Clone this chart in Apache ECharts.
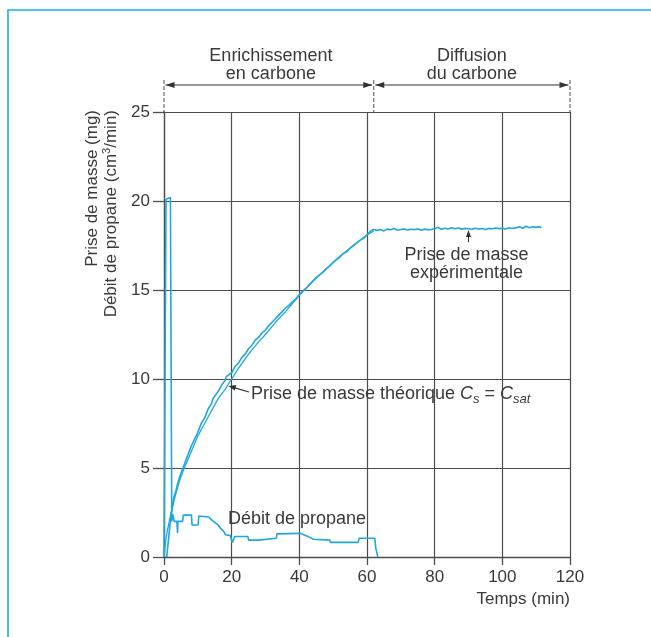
<!DOCTYPE html>
<html>
<head>
<meta charset="utf-8">
<script src="https://cdn.jsdelivr.net/npm/echarts@6/dist/echarts.min.js"></script>
<style>
  html, body { margin: 0; padding: 0; background: #fff; }
  #chart { width: 651px; height: 637px; }
</style>
</head>
<body>
<div id="chart"></div>
<script>
// Time axis (min) and value axis ticks
const xTicks = [0, 20, 40, 60, 80, 100, 120];
const yTicks = [0, 5, 10, 15, 20, 25];

// Theoretical mass gain (Cs = Csat)
const theoTime = [0, 0.5, 1, 2, 3, 4, 5, 6, 8, 10, 12, 14, 16, 18, 20, 22, 25, 28, 30, 33, 36, 40, 44, 48, 52, 56, 60, 62];
const theoMass = [0, 0.9, 1.5, 2.4, 3.2, 3.9, 4.5, 5.0, 5.9, 6.8, 7.5, 8.2, 8.9, 9.4, 10.0, 10.6, 11.4, 12.1, 12.5, 13.2, 13.8, 14.7, 15.5, 16.2, 16.9, 17.5, 18.1, 18.3];

// Measured mass gain (mg)
const expTime = [0.8, 1.5, 2, 2.5, 3, 3.5, 4, 5, 6, 7, 8, 9, 10, 11, 12, 13, 14, 14.5, 15, 16, 16.5, 17, 18, 18.5, 19, 20,
  21, 22, 23, 24, 25, 26, 27, 28, 29, 30, 31, 32, 33, 34, 35, 36, 37, 38, 39, 40,
  41, 42, 43, 44, 45, 46, 47, 48, 49, 50, 51, 52, 53, 54, 55, 56, 57, 58, 59, 60, 61, 62,
  63, 64, 65, 66, 67, 68, 69, 70, 71, 72, 73, 74, 75, 76, 77, 78, 79, 80,
  81, 82, 83, 84, 85, 86, 87, 88, 89, 90, 91, 92, 93, 94, 95, 96, 97, 98, 99, 100,
  101, 102, 103, 104, 105, 106, 107, 108, 109, 110, 111, 111.5];
const expMass = [0, 1.3, 2.3, 2.9, 3.4, 3.7, 4.1, 4.7, 5.2, 5.7, 6.2, 6.6, 7.0, 7.5, 7.8, 8.3, 8.6, 8.9, 8.85, 9.3, 9.45, 9.65, 9.9, 10.15, 10.1, 10.35,
  10.7, 10.9, 11.2, 11.4, 11.7, 11.9, 12.2, 12.35, 12.6, 12.75, 13.0, 13.2, 13.4, 13.6, 13.8, 14.0, 14.15, 14.35, 14.5, 14.75,
  14.95, 15.1, 15.3, 15.5, 15.7, 15.85, 16.0, 16.2, 16.35, 16.55, 16.7, 16.85, 17.05, 17.15, 17.35, 17.5, 17.65, 17.8, 17.9, 18.1, 18.3, 18.4,
  18.35, 18.4, 18.32, 18.42, 18.38, 18.45, 18.36, 18.4, 18.43, 18.37, 18.41, 18.39, 18.44, 18.36, 18.42, 18.38, 18.4, 18.46,
  18.52, 18.41, 18.47, 18.43, 18.5, 18.44, 18.48, 18.42, 18.46, 18.44, 18.41, 18.47, 18.43, 18.45, 18.4, 18.46, 18.44, 18.48, 18.45, 18.47,
  18.43, 18.5, 18.46, 18.49, 18.56, 18.47, 18.58, 18.5, 18.55, 18.52, 18.56, 18.5];

// Propane flow rate (cm3/min)
const propTime = [0, 0.3, 0.6, 0.8, 1.9, 2.1, 2.3, 2.6, 3, 3.8, 4.0, 4.1, 5.5, 5.7, 8.1, 8.3, 10.1, 10.3, 13.2, 14, 15, 16, 17, 17.6, 18.2, 19.6, 20.2, 20.6, 20.9,
  24.8, 25, 27.8, 28, 33.2, 33.4, 33.5, 33.7, 40.2, 42, 44.2, 49, 49.2, 57.4, 57.7, 62.3, 62.6, 63.2];
const propFlow = [0, 0, 20.1, 20.2, 20.2, 20.1, 2.0, 2.4, 2.0, 2.0, 1.35, 2.0, 2.0, 2.35, 2.35, 1.8, 1.8, 2.3, 2.25, 2.1, 1.95, 1.8, 1.55, 1.45, 1.25, 1.2, 0.8, 0.8, 1.15,
  1.15, 0.95, 0.95, 1.05, 1.05, 1.3, 1.2, 1.33, 1.33, 1.2, 1.0, 0.95, 0.82, 0.82, 1.05, 1.05, 0.5, 0];

// Phase boundaries (min)
const phaseBounds = [0, 62, 120];
const phaseNames = [['Enrichissement', 'en carbone'], ['Diffusion', 'du carbone']];

const pairs = (xs, ys) => xs.map((x, i) => [x, ys[i]]);

const BLUE = '#1fa7e1';
const INK = '#3a3a3a';
const AXIS = '#4d4d4d';
const FONT = 'Liberation Sans';

const chart = echarts.init(document.getElementById('chart'), null, { renderer: 'canvas' });

chart.setOption({
  animation: false,
  backgroundColor: '#ffffff',
  grid: { left: 164, right: 81, top: 112, bottom: 80, containLabel: false },
  xAxis: {
    type: 'value', min: xTicks[0], max: xTicks[xTicks.length - 1], interval: 20,
    axisLine: { show: true, lineStyle: { color: AXIS, width: 1.3 } },
    axisTick: { show: true, length: 8, lineStyle: { color: AXIS, width: 1.3 } },
    axisLabel: { color: INK, fontSize: 17, fontFamily: FONT, margin: 12 },
    splitLine: { show: true, lineStyle: { color: AXIS, width: 1.2 } }
  },
  yAxis: {
    type: 'value', min: yTicks[0], max: yTicks[yTicks.length - 1], interval: 5,
    axisLine: { show: true, lineStyle: { color: AXIS, width: 1.3 } },
    axisTick: { show: true, length: 11, lineStyle: { color: AXIS, width: 1.3 } },
    axisLabel: { color: INK, fontSize: 17, fontFamily: FONT, margin: 14 },
    splitLine: { show: true, lineStyle: { color: AXIS, width: 1.2 } }
  },
  series: [
    { name: 'théorique', type: 'line', data: pairs(theoTime, theoMass), showSymbol: false, clip: false,
      lineStyle: { color: BLUE, width: 1.3 }, z: 3 },
    { name: 'expérimentale', type: 'line', data: pairs(expTime, expMass), showSymbol: false, clip: false,
      lineStyle: { color: BLUE, width: 1.6 }, z: 4 },
    { name: 'propane', type: 'line', data: pairs(propTime, propFlow), showSymbol: false, clip: false,
      lineStyle: { color: BLUE, width: 1.6 }, z: 4 }
  ]
});

// Annotations placed from data coordinates
const px = (x, y) => chart.convertToPixel({ gridIndex: 0 }, [x, y]);
const lineEl = (x1, y1, x2, y2, extra) => Object.assign({
  type: 'line', shape: { x1, y1, x2, y2 }, style: { stroke: AXIS, lineWidth: 1.2 }, silent: true
}, extra || {});
const tri = (pts) => ({ type: 'polygon', shape: { points: pts }, style: { fill: '#333' }, silent: true });
const txt = (x, y, text, align, extra) => ({
  type: 'text', x, y, silent: true,
  style: Object.assign({ text, fill: INK, font: '18px "' + FONT + '"', textAlign: align || 'center', textVerticalAlign: 'middle' }, extra || {})
});

const g = [];

// Frame around the figure
g.push({ type: 'rect', shape: { x: 8, y: 10, width: 800, height: 800 }, style: { fill: 'none', stroke: '#18b0ea', lineWidth: 1.6 }, silent: true });

// Phase markers above the plot
const topY = px(0, 25)[1];
const arrowY = topY - 27;
const bx = phaseBounds.map(t => px(t, 25)[0]);
bx.forEach(x => g.push(lineEl(x, topY - 32, x, topY, { style: { stroke: AXIS, lineWidth: 1, lineDash: [4, 2] } })));
for (let i = 0; i < 2; i++) {
  const a = bx[i] + 1.5, b = bx[i + 1] - 1.5;
  g.push(lineEl(a, arrowY, b, arrowY, { style: { stroke: '#333', lineWidth: 1.2 } }));
  g.push(tri([[a, arrowY], [a + 9, arrowY - 3], [a + 9, arrowY + 3]]));
  g.push(tri([[b, arrowY], [b - 9, arrowY - 3], [b - 9, arrowY + 3]]));
  const cx = (bx[i] + bx[i + 1]) / 2 + (i === 0 ? 2 : 0);
  g.push(txt(cx, arrowY - 29, phaseNames[i][0]));
  g.push(txt(cx, arrowY - 11, phaseNames[i][1]));
}

// Axis titles
g.push(txt(570, 599, 'Temps (min)', 'right', { font: '17px "' + FONT + '"' }));
g.push({
  type: 'text', x: 92, y: 110, rotation: Math.PI / 2, silent: true,
  style: { text: 'Prise de masse (mg)', fill: INK, font: '17px "' + FONT + '"', textAlign: 'right', textVerticalAlign: 'middle' }
});
g.push({
  type: 'text', x: 111, y: 110, rotation: Math.PI / 2, silent: true,
  style: {
    text: 'Débit de propane (cm{sup|3}/min)', fill: INK, font: '17px "' + FONT + '"', textAlign: 'right', textVerticalAlign: 'middle',
    rich: { sup: { fontSize: 11, fontFamily: FONT, fill: INK, padding: [0, 0, 8, 0] } }
  }
});

// Measured curve label with pointer
const pExp = px(90, 18.42);
g.push(lineEl(pExp[0], pExp[1] + 13, pExp[0], pExp[1] + 4, { style: { stroke: '#333', lineWidth: 1.1 } }));
g.push(tri([[pExp[0], pExp[1] + 1], [pExp[0] - 2.5, pExp[1] + 8], [pExp[0] + 2.5, pExp[1] + 8]]));
g.push(txt(pExp[0] - 2, 255, 'Prise de masse'));
g.push(txt(pExp[0] - 2, 273, 'expérimentale'));

// Theoretical curve label with pointer
const pTh = px(19, 9.6);
const lx = 249, ly = 392;
g.push(lineEl(lx, ly, pTh[0] + 4, pTh[1] + 1, { style: { stroke: '#333', lineWidth: 1.1 } }));
g.push(tri([[pTh[0], pTh[1]], [pTh[0] + 8, pTh[1] - 1], [pTh[0] + 6.5, pTh[1] + 4.5]]));
g.push({
  type: 'text', x: 251, y: 394, silent: true,
  style: {
    text: 'Prise de masse théorique {i|C}{s|s}{eq| = }{i|C}{s|sat}',
    fill: INK, font: '18px "' + FONT + '"', textAlign: 'left', textVerticalAlign: 'middle',
    rich: {
      i: { fontSize: 18, fontFamily: FONT, fontStyle: 'italic', fill: INK },
      s: { fontSize: 13, fontFamily: FONT, fontStyle: 'italic', fill: INK, padding: [10, 0, 0, 0] },
      eq: { fontSize: 18, fontFamily: FONT, fill: INK }
    }
  }
});

// Propane flow label
g.push(txt(297, 519, 'Débit de propane'));

chart.setOption({ graphic: g });
</script>
</body>
</html>
